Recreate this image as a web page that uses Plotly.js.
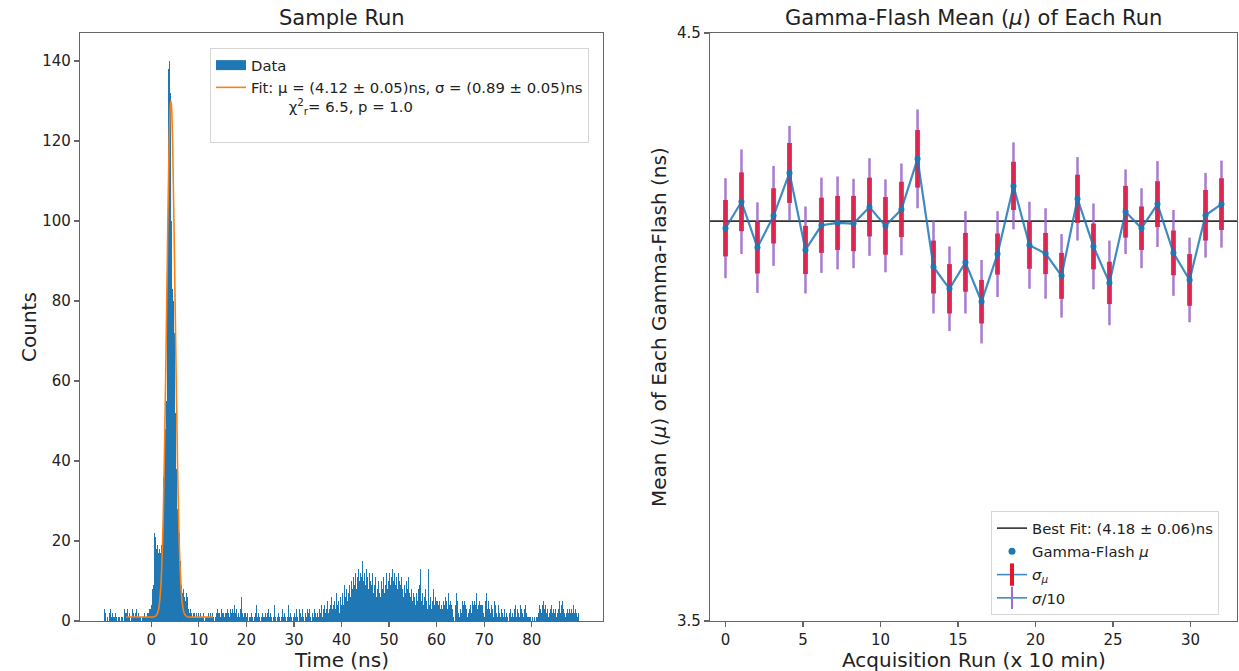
<!DOCTYPE html>
<html><head><meta charset="utf-8">
<script src="https://cdn.plot.ly/plotly-3.0.1.min.js"></script>
<style>html,body{margin:0;padding:0;background:#fff}#chart{width:1239px;height:671px}</style>
</head><body><div id="chart"></div>
<script>
// ---------- Left panel: histogram of one sample run (0.2 ns bins from -10 ns to 90 ns) ----------
const binStart = -10;
const binWidth = 0.2;
const counts = [
  // -10 .. 0 ns
  3,2,0,1,0,4,2,3,1,2, 1,1,2,1,0,1,1,0,1,1, 0,3,2,2,3,1,1,2,0,1, 3,2,1,2,3,1,2,1,1,0, 1,1,2,1,1,2,2,2,3,3,
  // 0 .. 10 ns
  4,8,9,22,21,18,19,17,18,17, 19,22,36,42,48,55,63,90,138,140, 132,100,83,80,72,52,38,28,23,22, 15,9,7,8,6,5,7,4,6,3, 2,3,2,1,2,2,1,2,1,2,
  // 10 .. 20 ns
  1,2,1,1,2,0,1,2,1,1, 2,1,2,1,2,1,0,1,2,3, 2,2,1,3,2,2,1,4,2,2, 3,2,1,3,2,3,2,4,2,3, 1,2,1,3,6,2,1,2,1,2,
  // 20 .. 30 ns
  1,2,0,1,1,2,1,0,1,2, 4,1,2,1,0,1,2,1,0,1, 2,1,2,3,1,2,1,0,1,4, 1,0,1,2,1,0,1,3,2,1, 2,1,0,1,4,1,2,1,0,1,
  // 30 .. 40 ns
  2,1,3,1,0,3,2,1,3,2, 1,0,2,1,3,2,3,1,0,2, 1,3,2,1,2,1,3,2,4,2, 1,3,4,2,3,5,2,3,4,6, 3,4,5,3,7,4,5,2,6,4,
  // 40 .. 50 ns
  5,7,4,9,6,8,5,7,9,6, 10,8,11,9,12,8,11,13,10,12, 9,11,15,10,12,9,13,11,8,12, 10,9,12,7,9,11,6,8,10,7, 9,6,10,8,11,7,9,12,8,10,
  // 50 .. 60 ns
  12,9,11,13,10,12,9,11,8,12, 10,7,9,11,8,6,9,7,10,8, 11,7,6,8,5,7,6,4,7,5, 8,6,9,13,5,7,4,6,8,5, 3,13,4,6,3,5,8,4,6,5,
  // 60 .. 70 ns
  5,6,4,5,3,4,3,5,4,6, 5,3,7,4,5,4,3,1,0,4, 7,5,3,2,1,3,2,5,4,5, 4,3,1,2,3,4,2,5,4,5, 4,7,4,3,4,5,4,4,4,2,
  // 70 .. 80 ns
  1,5,7,3,5,3,2,4,3,1, 5,4,2,3,1,4,2,1,3,2, 1,3,1,2,1,0,2,3,1,2, 1,3,4,2,1,3,2,1,4,3, 2,1,3,4,2,1,1,1,1,0,
  // 80 .. 90 ns
  1,0,1,1,0,1,1,2,4,3, 2,4,5,3,4,2,3,1,2,3, 4,2,3,2,4,3,1,2,3,5, 2,4,5,3,2,1,2,3,2,3, 2,3,2,4,7,2,3,2,1,2
];
// Gaussian fit curve
const fitX = [-5.3, 0.0, 0.5, 1.0, 1.5, 2.0, 2.5, 3.0, 3.5, 3.75, 4.0, 4.12, 4.25, 4.5, 5.0, 5.5, 6.0, 6.5, 7.0, 7.5, 8.0, 13.0];
const fitY = [1.0, 1.0, 1.0, 1.3, 2.7, 8.6, 25.6, 59.4, 102, 119.3, 128.8, 130, 128.6, 118.8, 80, 39.8, 14.9, 4.6, 1.7, 1.1, 1.0, 1.0];
const histTicks = [0, 10, 20, 30, 40, 50, 60, 70, 80];
const countTicks = [0, 20, 40, 60, 80, 100, 120, 140];

// ---------- Right panel: gamma-flash mean of each run ----------
const runX = [0, 1.03, 2.06, 3.10, 4.13, 5.16, 6.19, 7.23, 8.26, 9.29, 10.32, 11.35, 12.39, 13.42, 14.45, 15.48,
              16.52, 17.55, 18.58, 19.61, 20.65, 21.68, 22.71, 23.74, 24.77, 25.81, 26.84, 27.87, 28.90, 29.94, 30.97, 32.00];
const muVals = [4.168, 4.213, 4.135, 4.189, 4.262, 4.131, 4.173, 4.177, 4.176, 4.204, 4.172, 4.200, 4.286, 4.102, 4.065, 4.110,
                4.043, 4.124, 4.240, 4.139, 4.125, 4.087, 4.218, 4.137, 4.075, 4.196, 4.168, 4.209, 4.126, 4.080, 4.190, 4.209];
const sigmaMu = [0.048, 0.050, 0.044, 0.047, 0.051, 0.041, 0.047, 0.046, 0.047, 0.050, 0.049, 0.047, 0.049, 0.045, 0.042, 0.050,
                 0.037, 0.035, 0.041, 0.040, 0.035, 0.039, 0.041, 0.039, 0.036, 0.044, 0.037, 0.039, 0.038, 0.044, 0.043, 0.044];
const sigmaTenth = [0.085, 0.089, 0.077, 0.085, 0.080, 0.074, 0.081, 0.079, 0.076, 0.083, 0.079, 0.078, 0.084, 0.079, 0.072, 0.087,
                    0.071, 0.073, 0.074, 0.074, 0.077, 0.071, 0.071, 0.073, 0.072, 0.072, 0.068, 0.073, 0.073, 0.072, 0.072, 0.074];
const bestFit = 4.18;
const runRange = [-1, 33];
const runTicks = [0, 5, 10, 15, 20, 25, 30];
const muTicks = [3.5, 4.5];

// ---------- derived ----------
const binCenters = counts.map((c, i) => binStart + (i + 0.5) * binWidth);

const FONT = 'DejaVu Sans, Arial, sans-serif';
const TXT = '#222';
const BLUE = '#1f77b4';
const NB = '\u00a0';

const traces = [
  {type: 'bar', x: binCenters, y: counts, width: binWidth, name: 'Data', showlegend: false,
   marker: {color: BLUE, line: {width: 0}}, xaxis: 'x', yaxis: 'y', hoverinfo: 'x+y'},
  {type: 'scatter', mode: 'lines', x: [null], y: [null], line: {color: BLUE, width: 10},
   name: 'Data', xaxis: 'x', yaxis: 'y', legend: 'legend'},
  {type: 'scatter', mode: 'lines', x: fitX, y: fitY, line: {color: '#ff7f0e', width: 1.6, shape: 'spline', smoothing: 0.8},
   name: 'Fit: μ = (4.12 ± 0.05)ns, σ = (0.89 ± 0.05)ns<br>' + NB.repeat(8) + 'χ<sup>2</sup><sub>r</sub>= 6.5, p = 1.0<br>' + NB,
   xaxis: 'x', yaxis: 'y', legend: 'legend'},

  // best fit line
  {type: 'scatter', mode: 'lines', x: runRange, y: [bestFit, bestFit], line: {color: '#333', width: 1.6},
   name: 'Best Fit: (4.18 ± 0.06)ns', xaxis: 'x2', yaxis: 'y2', legend: 'legend2', legendgroup: 'g1'},
  // sigma/10 error bars
  {type: 'scatter', mode: 'markers', x: runX, y: muVals, marker: {color: 'rgba(0,0,0,0)', size: 1},
   error_y: {type: 'data', array: sigmaTenth, visible: true, color: 'rgba(150,100,200,0.85)', thickness: 2.5, width: 0},
   showlegend: false, xaxis: 'x2', yaxis: 'y2', hoverinfo: 'skip'},
  // sigma_mu error bars
  {type: 'scatter', mode: 'markers', x: runX, y: muVals, marker: {color: 'rgba(0,0,0,0)', size: 1},
   error_y: {type: 'data', array: sigmaMu, visible: true, color: 'rgba(228,20,60,0.85)', thickness: 5, width: 0},
   showlegend: false, xaxis: 'x2', yaxis: 'y2', hoverinfo: 'skip'},
  // line + points
  {type: 'scatter', mode: 'lines+markers', x: runX, y: muVals,
   line: {color: 'rgba(31,119,180,0.85)', width: 2.2}, marker: {color: BLUE, size: 6},
   showlegend: false, xaxis: 'x2', yaxis: 'y2'},

  // legend-only entries
  {type: 'scatter', mode: 'markers', x: [null], y: [null], marker: {color: BLUE, size: 7},
   name: 'Gamma-Flash <i>μ</i>', xaxis: 'x2', yaxis: 'y2', legend: 'legend2', legendgroup: 'g2'},
  {type: 'scatter', mode: 'lines+markers', x: [null], y: [null], line: {color: 'rgba(31,119,180,0.85)', width: 1.6},
   marker: {symbol: 'line-ns', size: 16, color: 'rgb(235,20,40)', line: {color: 'rgb(235,20,40)', width: 4}},
   name: '<i>σ</i><sub><i>μ</i></sub>', xaxis: 'x2', yaxis: 'y2', legend: 'legend2', legendgroup: 'g3'},
  {type: 'scatter', mode: 'lines+markers', x: [null], y: [null], line: {color: 'rgba(31,119,180,0.85)', width: 1.6},
   marker: {symbol: 'line-ns', size: 16, color: 'rgb(160,110,210)', line: {color: 'rgb(160,110,210)', width: 2}},
   name: '<i>σ</i>/10', xaxis: 'x2', yaxis: 'y2', legend: 'legend2', legendgroup: 'g4'}
];

const W = 1239, H = 671;
const px = v => v / W;
const py = v => 1 - v / H;

const axisCommon = {
  showline: true, mirror: true, linecolor: '#666', linewidth: 1.2,
  ticks: 'outside', ticklen: 5, tickwidth: 1.2, tickcolor: '#666',
  showgrid: false, zeroline: false,
  tickfont: {family: FONT, size: 15, color: TXT}
};

const layout = {
  width: W, height: H,
  margin: {l: 0, r: 0, t: 0, b: 0},
  paper_bgcolor: '#fff', plot_bgcolor: '#fff',
  showlegend: true, bargap: 0,
  font: {family: FONT, color: TXT},
  xaxis: Object.assign({}, axisCommon, {domain: [px(80), px(603)], anchor: 'y', range: [-15, 95], tickvals: histTicks}),
  yaxis: Object.assign({}, axisCommon, {domain: [1 - 621 / H, 1 - 33 / H], anchor: 'x', range: [0, 147], tickvals: countTicks}),
  xaxis2: Object.assign({}, axisCommon, {domain: [px(710), px(1237)], anchor: 'y2', range: runRange, tickvals: runTicks}),
  yaxis2: Object.assign({}, axisCommon, {domain: [1 - 621 / H, 1 - 33 / H], anchor: 'x2', range: [3.5, 4.5], tickvals: muTicks, ticktext: ['3.5', '4.5']}),
  legend: {x: px(210), y: py(48), xanchor: 'left', yanchor: 'top', bgcolor: 'rgba(255,255,255,0.9)',
           bordercolor: '#d6d6d6', borderwidth: 1, font: {family: FONT, size: 14.8, color: TXT}, valign: 'top'},
  legend2: {x: px(991), y: py(511), xanchor: 'left', yanchor: 'top', bgcolor: 'rgba(255,255,255,0.9)',
            bordercolor: '#d6d6d6', borderwidth: 1, font: {family: FONT, size: 14.8, color: TXT},
            traceorder: 'grouped', tracegroupgap: 1},
  annotations: [
    {text: 'Sample Run', x: px(341.5), y: py(18), xref: 'paper', yref: 'paper', showarrow: false,
     xanchor: 'center', yanchor: 'middle', font: {family: FONT, size: 21, color: TXT}},
    {text: 'Gamma-Flash Mean (<i>μ</i>) of Each Run', x: px(973.5), y: py(18), xref: 'paper', yref: 'paper', showarrow: false,
     xanchor: 'center', yanchor: 'middle', font: {family: FONT, size: 21, color: TXT}},
    {text: 'Time (ns)', x: px(341.5), y: py(660), xref: 'paper', yref: 'paper', showarrow: false,
     xanchor: 'center', yanchor: 'middle', font: {family: FONT, size: 20, color: TXT}},
    {text: 'Acquisition Run (x 10 min)', x: px(973.5), y: py(660), xref: 'paper', yref: 'paper', showarrow: false,
     xanchor: 'center', yanchor: 'middle', font: {family: FONT, size: 20, color: TXT}},
    {text: 'Counts', x: px(29), y: py(327), xref: 'paper', yref: 'paper', showarrow: false, textangle: -90,
     xanchor: 'center', yanchor: 'middle', font: {family: FONT, size: 20, color: TXT}},
    {text: 'Mean (<i>μ</i>) of Each Gamma-Flash (ns)', x: px(659), y: py(327), xref: 'paper', yref: 'paper', showarrow: false, textangle: -90,
     xanchor: 'center', yanchor: 'middle', font: {family: FONT, size: 20, color: TXT}}
  ]
};

Plotly.newPlot('chart', traces, layout, {staticPlot: true, displayModeBar: false});
</script></body></html>
